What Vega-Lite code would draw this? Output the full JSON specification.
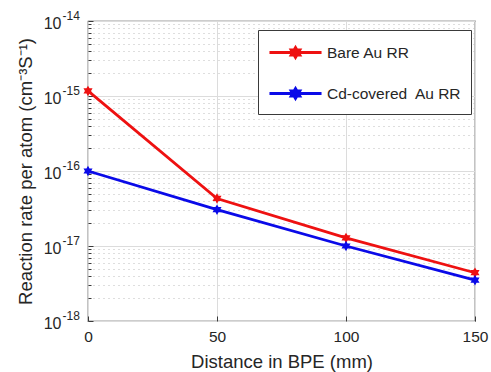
{
  "$schema": "https://vega.github.io/schema/vega-lite/v6.json",
  "autosize": "none",
  "width": 387,
  "height": 300,
  "padding": {"left": 88, "top": 21, "right": 16, "bottom": 51},
  "background": "white",
  "config": {
    "font": "Liberation Sans",
    "view": {"stroke": "#3a3a3a", "strokeWidth": 1.2}
  },
  "data": {
    "values": [
      {"distance": 0, "rate": 1.17e-15, "series": "Bare Au RR"},
      {"distance": 50, "rate": 4.3e-17, "series": "Bare Au RR"},
      {"distance": 100, "rate": 1.28e-17, "series": "Bare Au RR"},
      {"distance": 150, "rate": 4.4e-18, "series": "Bare Au RR"},
      {"distance": 0, "rate": 1.0e-16, "series": "Cd-covered\u00a0 Au RR"},
      {"distance": 50, "rate": 3.05e-17, "series": "Cd-covered\u00a0 Au RR"},
      {"distance": 100, "rate": 1.0e-17, "series": "Cd-covered\u00a0 Au RR"},
      {"distance": 150, "rate": 3.5e-18, "series": "Cd-covered\u00a0 Au RR"}
    ]
  },
  "encoding": {
    "x": {
      "field": "distance",
      "type": "quantitative",
      "scale": {"domain": [0, 150], "nice": false},
      "axis": {
        "values": [0, 50, 100, 150],
        "title": "Distance in BPE (mm)",
        "titleFontSize": 18.5,
        "titleFontWeight": "normal",
        "titleColor": "#262626",
        "titlePadding": 8,
        "labelFontSize": 15.5,
        "labelColor": "#262626",
        "labelPadding": 13,
        "labelFlush": false,
        "domain": false,
        "ticks": true,
        "tickSize": -5,
        "tickColor": "#3a3a3a",
        "grid": true,
        "gridColor": "#dcdcdc",
        "gridWidth": 1
      }
    }
  },
  "layer": [
    {
      "mark": {
        "type": "line",
        "strokeWidth": 2.8,
        "point": {
          "filled": true,
          "size": 110,
          "shape": "M0,-1L0.289,-0.5L0.866,-0.5L0.577,0L0.866,0.5L0.289,0.5L0,1L-0.289,0.5L-0.866,0.5L-0.577,0L-0.866,-0.5L-0.289,-0.5Z"
        }
      },
      "encoding": {
        "y": {
          "field": "rate",
          "type": "quantitative",
          "scale": {"type": "log", "domain": [1e-18, 1e-14], "nice": false},
          "axis": {
            "orient": "left",
            "values": [1e-18, 2e-18, 3e-18, 4e-18, 5e-18, 6e-18, 7e-18, 8e-18, 9e-18,
                       1e-17, 2e-17, 3e-17, 4e-17, 5e-17, 6e-17, 7e-17, 8e-17, 9e-17,
                       1e-16, 2e-16, 3e-16, 4e-16, 5e-16, 6e-16, 7e-16, 8e-16, 9e-16,
                       1e-15, 2e-15, 3e-15, 4e-15, 5e-15, 6e-15, 7e-15, 8e-15, 9e-15, 1e-14],
            "labelExpr": "abs(log(datum.value)/LN10 - round(log(datum.value)/LN10)) < 0.01 ? '10' : ''",
            "title": "Reaction rate per atom (cm⁻³S⁻¹)",
            "titleFontSize": 18.5,
            "titleFontWeight": "normal",
            "titleColor": "#262626",
            "titlePadding": 8,
            "labelFontSize": 16,
            "labelColor": "#262626",
            "labelPadding": 32,
            "labelOffset": 2,
            "labelFlush": false,
            "labelOverlap": false,
            "domain": false,
            "ticks": true,
            "tickSize": {"condition": {"test": "abs(log(datum.value)/LN10 - round(log(datum.value)/LN10)) < 0.01", "value": -5}, "value": -3},
            "tickColor": "#3a3a3a",
            "grid": true,
            "gridColor": {"condition": {"test": "abs(log(datum.value)/LN10 - round(log(datum.value)/LN10)) < 0.01", "value": "#dcdcdc"}, "value": "#bdbdbd"},
            "gridDash": {"condition": {"test": "abs(log(datum.value)/LN10 - round(log(datum.value)/LN10)) < 0.01", "value": []}, "value": [1, 4]},
            "gridWidth": 1
          }
        },
        "color": {
          "field": "series",
          "type": "nominal",
          "scale": {"domain": ["Bare Au RR", "Cd-covered\u00a0 Au RR"], "range": ["#ee1111", "#0a0ae8"]},
          "legend": {
            "title": null,
            "orient": "none",
            "legendX": 170,
            "legendY": 9,
            "fillColor": "white",
            "strokeColor": "#3a3a3a",
            "padding": 9,
            "labelFontSize": 15.5,
            "labelColor": "#262626",
            "labelOffset": 33,
            "rowPadding": 16,
            "symbolSize": 576,
            "symbolStrokeWidth": 2.8,
            "symbolType": "M-0.92,0H3.42M1.25,-0.42L1.371,-0.21L1.614,-0.21L1.492,0L1.614,0.21L1.371,0.21L1.25,0.42L1.129,0.21L0.886,0.21L1.008,0L0.886,-0.21L1.129,-0.21Z",
            "encode": {
              "symbols": {"update": {"fill": {"scale": "color", "field": "value"}}}
            }
          }
        }
      }
    },
    {
      "mark": {"type": "point", "opacity": 0},
      "encoding": {
        "y": {
          "field": "rate",
          "type": "quantitative",
          "scale": {"type": "log", "domain": [1e-18, 1e-14], "nice": false},
          "axis": {
            "orient": "left",
            "values": [1e-18, 1e-17, 1e-16, 1e-15, 1e-14],
            "labelExpr": "'-' + format(-round(log(datum.value)/LN10), 'd')",
            "title": null,
            "labelFontSize": 12,
            "labelColor": "#262626",
            "labelAlign": "left",
            "labelPadding": 26,
            "labelOffset": -6,
            "labelFlush": false,
            "labelOverlap": false,
            "domain": false,
            "ticks": false,
            "grid": false
          }
        }
      }
    }
  ],
  "resolve": {"axis": {"y": "independent"}}
}
